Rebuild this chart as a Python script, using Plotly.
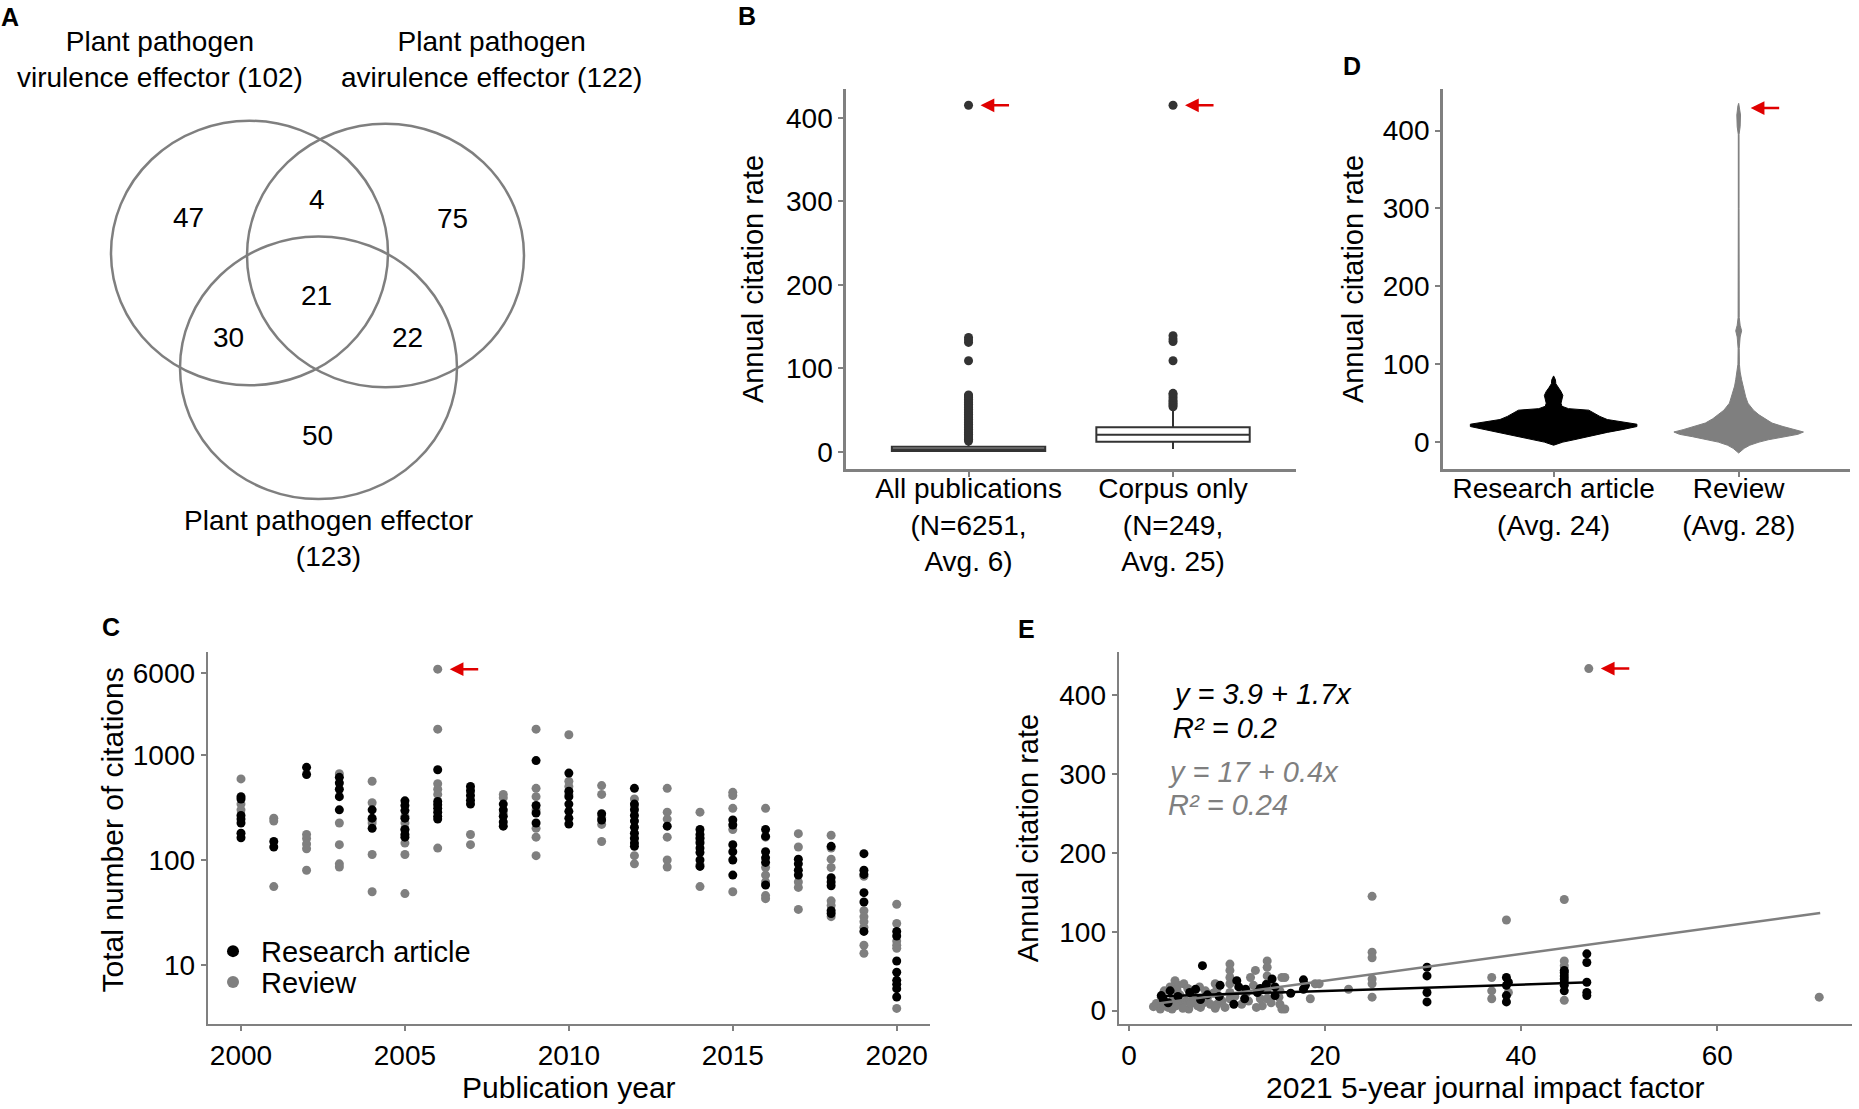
import math
import plotly.graph_objects as go

W, H = 1859, 1109
FONT = "Liberation Sans, Arial, Helvetica, sans-serif"
BLACK = "#000000"
GREY = "#7f7f7f"
AXIS = "#808080"
BOXC = "#333333"
RED = "#e00000"

# ---------------- DATA ----------------
# Panel A (Venn)
venn_set_labels = ["Plant pathogen<br>virulence effector (102)",
                   "Plant pathogen<br>avirulence effector (122)",
                   "Plant pathogen effector<br>(123)"]
venn_region_counts = [47, 4, 75, 30, 21, 22, 50]  # V, V&A, A, V&E, all, A&E, E

# Panel B (box plots)
b_categories = ["All publications<br>(N=6251,<br>Avg. 6)", "Corpus only<br>(N=249,<br>Avg. 25)"]
b_q1 = [1, 12]
b_median = [3, 20.5]
b_q3 = [6, 29.5]
b_lowerfence = [0, 3.5]
b_upperfence = [12, 50]
b_outliers_all = [13, 15, 17, 19, 21, 23, 25, 27, 29, 31, 33, 35, 37, 39, 41, 43, 45, 47,
                  49, 51, 53, 55, 57, 59, 61, 63, 65, 67, 68, 109, 131, 134, 137, 415]
b_outliers_corpus = [54, 56, 58, 60, 62, 65, 68, 70, 109, 132, 135, 139, 415]

# Panel D (violins: citation-rate levels and half widths)
d_categories = ["Research article<br>(Avg. 24)", "Review<br>(Avg. 28)"]
d_research_rate = [-4, 0, 3, 7, 10, 12.5, 16, 20, 23, 26, 29, 33, 37, 41, 43, 46, 50, 55, 60,
                   65, 70, 75, 80, 85]
d_research_halfwidth = [0, 0.05, 0.11, 0.18, 0.24, 0.29, 0.37, 0.45, 0.45, 0.37, 0.29, 0.25,
                        0.22, 0.19, 0.08, 0.045, 0.04, 0.045, 0.05, 0.04, 0.025, 0.012, 0.01, 0]
d_review_rate = [-14, -8, -4, 0, 3, 7, 10, 13, 16, 20, 24.5, 30, 35, 41, 50, 58, 65, 72, 80, 90,
                 100, 120, 135, 143, 150, 160, 200, 300, 395, 405, 420, 432, 435]
d_review_halfwidth = [0, 0.03, 0.06, 0.11, 0.16, 0.25, 0.32, 0.35, 0.30, 0.24, 0.18, 0.14, 0.11,
                      0.08, 0.05, 0.038, 0.03, 0.022, 0.016, 0.008, 0.004, 0.003, 0.008, 0.016,
                      0.008, 0.003, 0.002, 0.002, 0.002, 0.008, 0.01, 0.004, 0]

# Panel C (total citations by publication year)
c_years = [2000, 2001, 2002, 2003, 2004, 2005, 2006, 2007, 2008, 2009, 2010,
           2011, 2012, 2013, 2014, 2015, 2016, 2017, 2018, 2019, 2020]
c_research = [
    [400, 380, 265, 245, 225, 180, 163],
    [150, 133],
    [760, 650],
    [610, 540, 470, 400, 300],
    [300, 250, 200],
    [365, 330, 295, 250, 195, 175, 165],
    [720, 360, 335, 310, 285, 260, 245],
    [500, 455, 410, 370, 340],
    [340, 300, 260, 230, 210],
    [880, 330, 280, 225],
    [670, 450, 400, 340, 290, 250, 220],
    [275, 240],
    [480, 340, 300, 265, 235, 205, 180, 160, 145, 135],
    [210],
    [195, 175, 160, 145, 130, 118, 100, 87],
    [240, 215, 140, 120, 100, 72],
    [195, 168, 120, 105, 95, 58],
    [102, 92, 80, 72],
    [135, 68, 62, 57, 33, 31],
    [115, 80, 73, 49, 40, 21],
    [21, 19, 11, 8.6, 7.2, 6.6, 6.0, 5.0],
]
c_review = [
    [590, 340, 300],
    [250, 235, 56],
    [175, 160, 142, 128, 80],
    [660, 225, 140, 92, 86],
    [560, 350, 240, 225, 113, 50],
    [260, 225, 195, 145, 113, 48],
    [6500, 1750, 530, 470, 420, 130],
    [175, 140],
    [420, 390, 280],
    [1750, 480, 400, 300, 200, 165, 110],
    [1550, 560, 500, 420],
    [510, 420, 255, 218, 150],
    [380, 320, 165, 110, 92],
    [480, 285, 245, 165, 100, 86],
    [285, 165, 150, 90, 56],
    [440, 410, 310, 195, 50],
    [310, 165, 85, 72, 62, 46, 43],
    [178, 133, 62, 55, 34],
    [172, 130, 102, 85, 41, 37, 29],
    [70, 33, 29, 26, 23, 15.5, 13],
    [38, 25, 17, 15.5, 14.5, 3.9],
]

# Panel E (annual citation rate vs impact factor)
e_review_if = [2.5, 3.2, 3.3, 4.4, 4.7, 5.0, 4.2, 5.6, 6.8, 7.8, 5.4, 6.1, 7.3, 8.3, 8.8, 9.0,
               10.3, 10.3, 10.3, 10.3, 10.3, 10.3, 11.5, 12.0, 12.4, 12.9, 12.7, 13.4, 13.6,
               14.1, 14.1, 14.1, 14.1, 14.1, 14.1, 15.4, 15.9, 15.9, 15.4, 15.3, 18.5, 19.4,
               3.8, 4.5, 5.2, 5.8, 6.5, 7.0, 8.0, 8.6, 9.5, 9.8, 10.8, 12.2, 13.0, 14.5, 3.6,
               4.9, 6.0, 7.2, 9.0, 2.8, 3.5, 4.0, 4.8, 5.5, 6.3, 7.6, 8.8, 9.3, 22.4, 24.8,
               24.8, 24.8, 24.8, 24.8, 24.8, 37.0, 37.0, 37.0, 38.7, 38.5, 44.4, 44.4, 44.4,
               44.4, 46.9, 70.4, 19.0, 15.6, 15.6]
e_review_rate = [5, 2, 17, 2, 38, 32, 30, 34, 13, 25, 8, 2, 4, 8, 34, 8,
                 59, 51, 42, 34, 23, 15, 8, 23, 42, 51, 32, 15, 6,
                 63, 55, 44, 34, 25, 15, 8, 42, 2, 25, 17, 15, 34,
                 10, 14, 20, 12, 18, 6, 16, 22, 12, 4, 18, 12, 4, 10, 25,
                 26, 28, 30, 28, 9, 6, 4, 6, 3, 9, 10, 3, 15, 27, 145,
                 74, 67, 40, 34, 17, 42, 25, 15, 23, 115, 141, 63, 57,
                 13, 434, 17, 34, 42, 2]
e_research_if = [3.3, 4.2, 6.2, 6.8, 7.5, 9.3, 10.7, 11.0, 11.2, 11.9, 13.1, 14.6, 14.9, 14.9,
                 17.8, 18.0, 3.5, 5.0, 8.0, 9.2, 11.8, 13.4, 4.0, 7.3, 14.0, 16.5, 17.8,
                 30.4, 30.4, 30.4, 30.4, 38.5, 38.5, 38.5, 38.5, 38.7, 44.4, 44.4, 44.4, 44.4,
                 44.4, 44.4, 44.4, 46.7, 46.7, 46.7, 46.7, 46.7]
e_research_rate = [19, 25, 23, 27, 57, 32, 8, 38, 30, 27, 23, 40, 30, 19,
                   39, 32, 14, 18, 20, 18, 15, 28, 10, 14, 33, 22, 27,
                   55, 44, 23, 11, 42, 32, 11, 19, 36, 48, 40, 32, 25,
                   51, 44, 36, 72, 61, 36, 23, 19]
e_review_fit = (3.9, 1.7)      # intercept, slope  (grey line)
e_research_fit = (17.0, 0.4)   # intercept, slope  (black line)
e_review_if_span = (2.4, 70.5)
e_research_if_span = (3.3, 47.0)

# ---------------- FIGURE ----------------
def px(x):
    return x / W


def py(y):
    return 1 - y / H


fig = go.Figure()

# Panel B
fig.add_trace(go.Box(x=[0, 1], q1=b_q1, median=b_median, q3=b_q3,
                     lowerfence=b_lowerfence, upperfence=b_upperfence,
                     width=0.75, whiskerwidth=0, boxpoints=False,
                     fillcolor="white", line=dict(color=BOXC, width=2),
                     xaxis="x", yaxis="y", showlegend=False, hoverinfo="skip"))
fig.add_trace(go.Scatter(x=[0] * len(b_outliers_all) + [1] * len(b_outliers_corpus),
                         y=b_outliers_all + b_outliers_corpus, mode="markers",
                         marker=dict(color=BOXC, size=9), xaxis="x", yaxis="y",
                         showlegend=False, hoverinfo="skip"))

# Panel D violins
for idx, (lev, hw, col) in enumerate([(d_research_rate, d_research_halfwidth, BLACK),
                                      (d_review_rate, d_review_halfwidth, GREY)]):
    xs = [idx + w for w in hw] + [idx - w for w in reversed(hw)]
    ys = list(lev) + list(reversed(lev))
    fig.add_trace(go.Scatter(x=xs, y=ys, mode="lines", fill="toself", fillcolor=col,
                             line=dict(color=col, width=1), xaxis="x2", yaxis="y2",
                             showlegend=False, hoverinfo="skip"))

# Panel C
rev_x = [yr for yr, vals in zip(c_years, c_review) for _ in vals]
rev_y = [v for vals in c_review for v in vals]
res_x = [yr for yr, vals in zip(c_years, c_research) for _ in vals]
res_y = [v for vals in c_research for v in vals]
fig.add_trace(go.Scatter(x=rev_x, y=rev_y, mode="markers", name="\u00a0Review",
                         marker=dict(color=GREY, size=9), xaxis="x3", yaxis="y3",
                         legend="legend2"))
fig.add_trace(go.Scatter(x=res_x, y=res_y, mode="markers", name="\u00a0Research article",
                         marker=dict(color=BLACK, size=9), xaxis="x3", yaxis="y3",
                         legend="legend"))

# Panel E
fig.add_trace(go.Scatter(x=e_review_if, y=e_review_rate, mode="markers",
                         marker=dict(color=GREY, size=9), xaxis="x4", yaxis="y4",
                         showlegend=False))
fig.add_trace(go.Scatter(x=e_research_if, y=e_research_rate, mode="markers",
                         marker=dict(color=BLACK, size=9), xaxis="x4", yaxis="y4",
                         showlegend=False))
for (a, b), span, col in [(e_review_fit, e_review_if_span, GREY),
                          (e_research_fit, e_research_if_span, BLACK)]:
    fig.add_trace(go.Scatter(x=list(span), y=[a + b * s for s in span], mode="lines",
                             line=dict(color=col, width=2.5), xaxis="x4", yaxis="y4",
                             showlegend=False, hoverinfo="skip"))

# ---------------- LAYOUT ----------------
tickfont = dict(size=28, color="black", family=FONT)
catfont = dict(size=28, color="black", family=FONT)
titlefont = dict(size=29, color="black", family=FONT)


def ax(**kw):
    d = dict(showline=True, linecolor=AXIS, linewidth=2.5, ticks="outside",
             tickcolor=AXIS, tickwidth=2, ticklen=5, showgrid=False, zeroline=False,
             tickfont=tickfont, title_font=titlefont, fixedrange=True)
    d.update(kw)
    return d


legend_common = dict(xanchor="left", yanchor="middle", bgcolor="rgba(0,0,0,0)",
                     font=dict(size=29, family=FONT, color="black"), itemsizing="constant")

layout = dict(
    width=W, height=H, margin=dict(l=0, r=0, t=0, b=0),
    paper_bgcolor="white", plot_bgcolor="white",
    font=dict(family=FONT, color="black"),
    showlegend=True,
    legend=dict(x=px(213), y=py(953), **legend_common),
    legend2=dict(x=px(213), y=py(984), **legend_common),
    # B
    xaxis=ax(domain=[0.455, 0.697], range=[-0.6, 1.6], tickvals=[0, 1], ticktext=b_categories,
             anchor="y", ticklabelstandoff=-12, tickfont=catfont),
    yaxis=ax(domain=[0.576, 0.920], range=[-21, 435], tickvals=[0, 100, 200, 300, 400],
             anchor="x", title=dict(text="Annual citation rate", standoff=14)),
    # D
    xaxis2=ax(domain=[0.776, 0.995], range=[-0.6, 1.6], tickvals=[0, 1], ticktext=d_categories,
              anchor="y2", ticklabelstandoff=-12, tickfont=catfont),
    yaxis2=ax(domain=[0.576, 0.920], range=[-35, 454], tickvals=[0, 100, 200, 300, 400],
              anchor="x2", title=dict(text="Annual citation rate", standoff=11)),
    # C
    xaxis3=ax(domain=[0.112, 0.500], range=[1999, 2021], tickvals=[2000, 2005, 2010, 2015, 2020],
              anchor="y3", title=dict(text="Publication year", standoff=6),
              title_font=dict(size=30, color="black", family=FONT)),
    yaxis3=ax(domain=[0.075, 0.411], type="log", range=[0.443, 3.976],
              tickvals=[10, 100, 1000, 6000], ticktext=["10", "100", "1000", "6000"],
              anchor="x3"),
    # E
    xaxis4=ax(domain=[0.602, 0.996], range=[-1, 73.7], tickvals=[0, 20, 40, 60],
              anchor="y4", title=dict(text="2021 5-year journal impact factor", standoff=6),
              title_font=dict(size=30, color="black", family=FONT)),
    yaxis4=ax(domain=[0.075, 0.411], range=[-17, 455], tickvals=[0, 100, 200, 300, 400],
              anchor="x4", title=dict(text="Annual citation rate", standoff=12)),
)

# Venn circles (layout geometry in pixels)
venn_boxes = [(111, 121, 388, 386), (247, 124, 524, 388), (180, 237, 457, 500)]
shapes = []
for x0, y0, x1, y1 in venn_boxes:
    shapes.append(dict(type="circle", xref="paper", yref="paper", x0=px(x0), x1=px(x1),
                       y0=py(y1), y1=py(y0), line=dict(color=GREY, width=2.5)))
layout["shapes"] = shapes

annotations = []
venn_count_pos = [(188, 218), (317, 200), (452, 219), (228, 338), (316, 296), (407, 338), (317, 436)]
for (xx, yy), cnt in zip(venn_count_pos, venn_region_counts):
    annotations.append(dict(x=px(xx), y=py(yy), xref="paper", yref="paper", text=str(cnt),
                            xanchor="center", yanchor="middle", showarrow=False,
                            font=dict(size=28, family=FONT, color="black")))
venn_label_pos = [(160, 60), (492, 60), (328, 539)]
for (xx, yy), lab in zip(venn_label_pos, venn_set_labels):
    annotations.append(dict(x=px(xx), y=py(yy), xref="paper", yref="paper", text=lab,
                            xanchor="center", yanchor="middle", showarrow=False, align="center",
                            font=dict(size=28, family=FONT, color="black")))

# y-axis title of panel C (placed as rotated text)
annotations.append(dict(x=px(112), y=py(832), xref="paper", yref="paper",
                        text="Total number of citations", textangle=-90, showarrow=False,
                        xanchor="center", yanchor="middle",
                        font=dict(size=30, family=FONT, color="black")))

# panel letters
for lab, (xx, yy) in zip("ABDCE", [(10, 17), (747, 16), (1352, 66), (111, 628), (1026, 630)]):
    annotations.append(dict(x=px(xx), y=py(yy), xref="paper", yref="paper",
                            xanchor="center", yanchor="middle",
                            text="<b>%s</b>" % lab, showarrow=False,
                            font=dict(size=25, family=FONT, color="black")))


def red_arrow(xr, yr, x, y):
    return dict(x=x, y=y, xref=xr, yref=yr, text="", showarrow=True, arrowhead=2,
                arrowsize=1.1, arrowwidth=2.5, arrowcolor=RED, ax=42, ay=0, standoff=12)


annotations.append(red_arrow("x", "y", 0, b_outliers_all[-1]))
annotations.append(red_arrow("x", "y", 1, b_outliers_corpus[-1]))
annotations.append(red_arrow("x2", "y2", 1, 429))
annotations.append(red_arrow("x3", "y3", 2006, math.log10(max(c_review[6]))))
annotations.append(red_arrow("x4", "y4", 46.9, max(e_review_rate)))

# regression equations in panel E
eq_font = dict(size=29, family=FONT)
annotations += [
    dict(x=4.3, y=402, xref="x4", yref="y4", xanchor="left", yanchor="middle", showarrow=False,
         text="<i>y = %.1f + %.1fx</i>" % e_review_fit, font=dict(color="black", **eq_font)),
    dict(x=4.3, y=358, xref="x4", yref="y4", xanchor="left", yanchor="middle", showarrow=False,
         text="<i>R² = 0.2</i>", font=dict(color="black", **eq_font)),
    dict(x=3.8, y=303, xref="x4", yref="y4", xanchor="left", yanchor="middle", showarrow=False,
         text="<i>y = %g + %.1fx</i>" % e_research_fit, font=dict(color=GREY, **eq_font)),
    dict(x=3.8, y=261, xref="x4", yref="y4", xanchor="left", yanchor="middle", showarrow=False,
         text="<i>R² = 0.24</i>", font=dict(color=GREY, **eq_font)),
]
layout["annotations"] = annotations

fig.update_layout(**layout)
fig.write_html("out.html", config={"displayModeBar": False, "staticPlot": True},
               post_script="document.body.style.margin='0';document.body.style.overflow='hidden';")
